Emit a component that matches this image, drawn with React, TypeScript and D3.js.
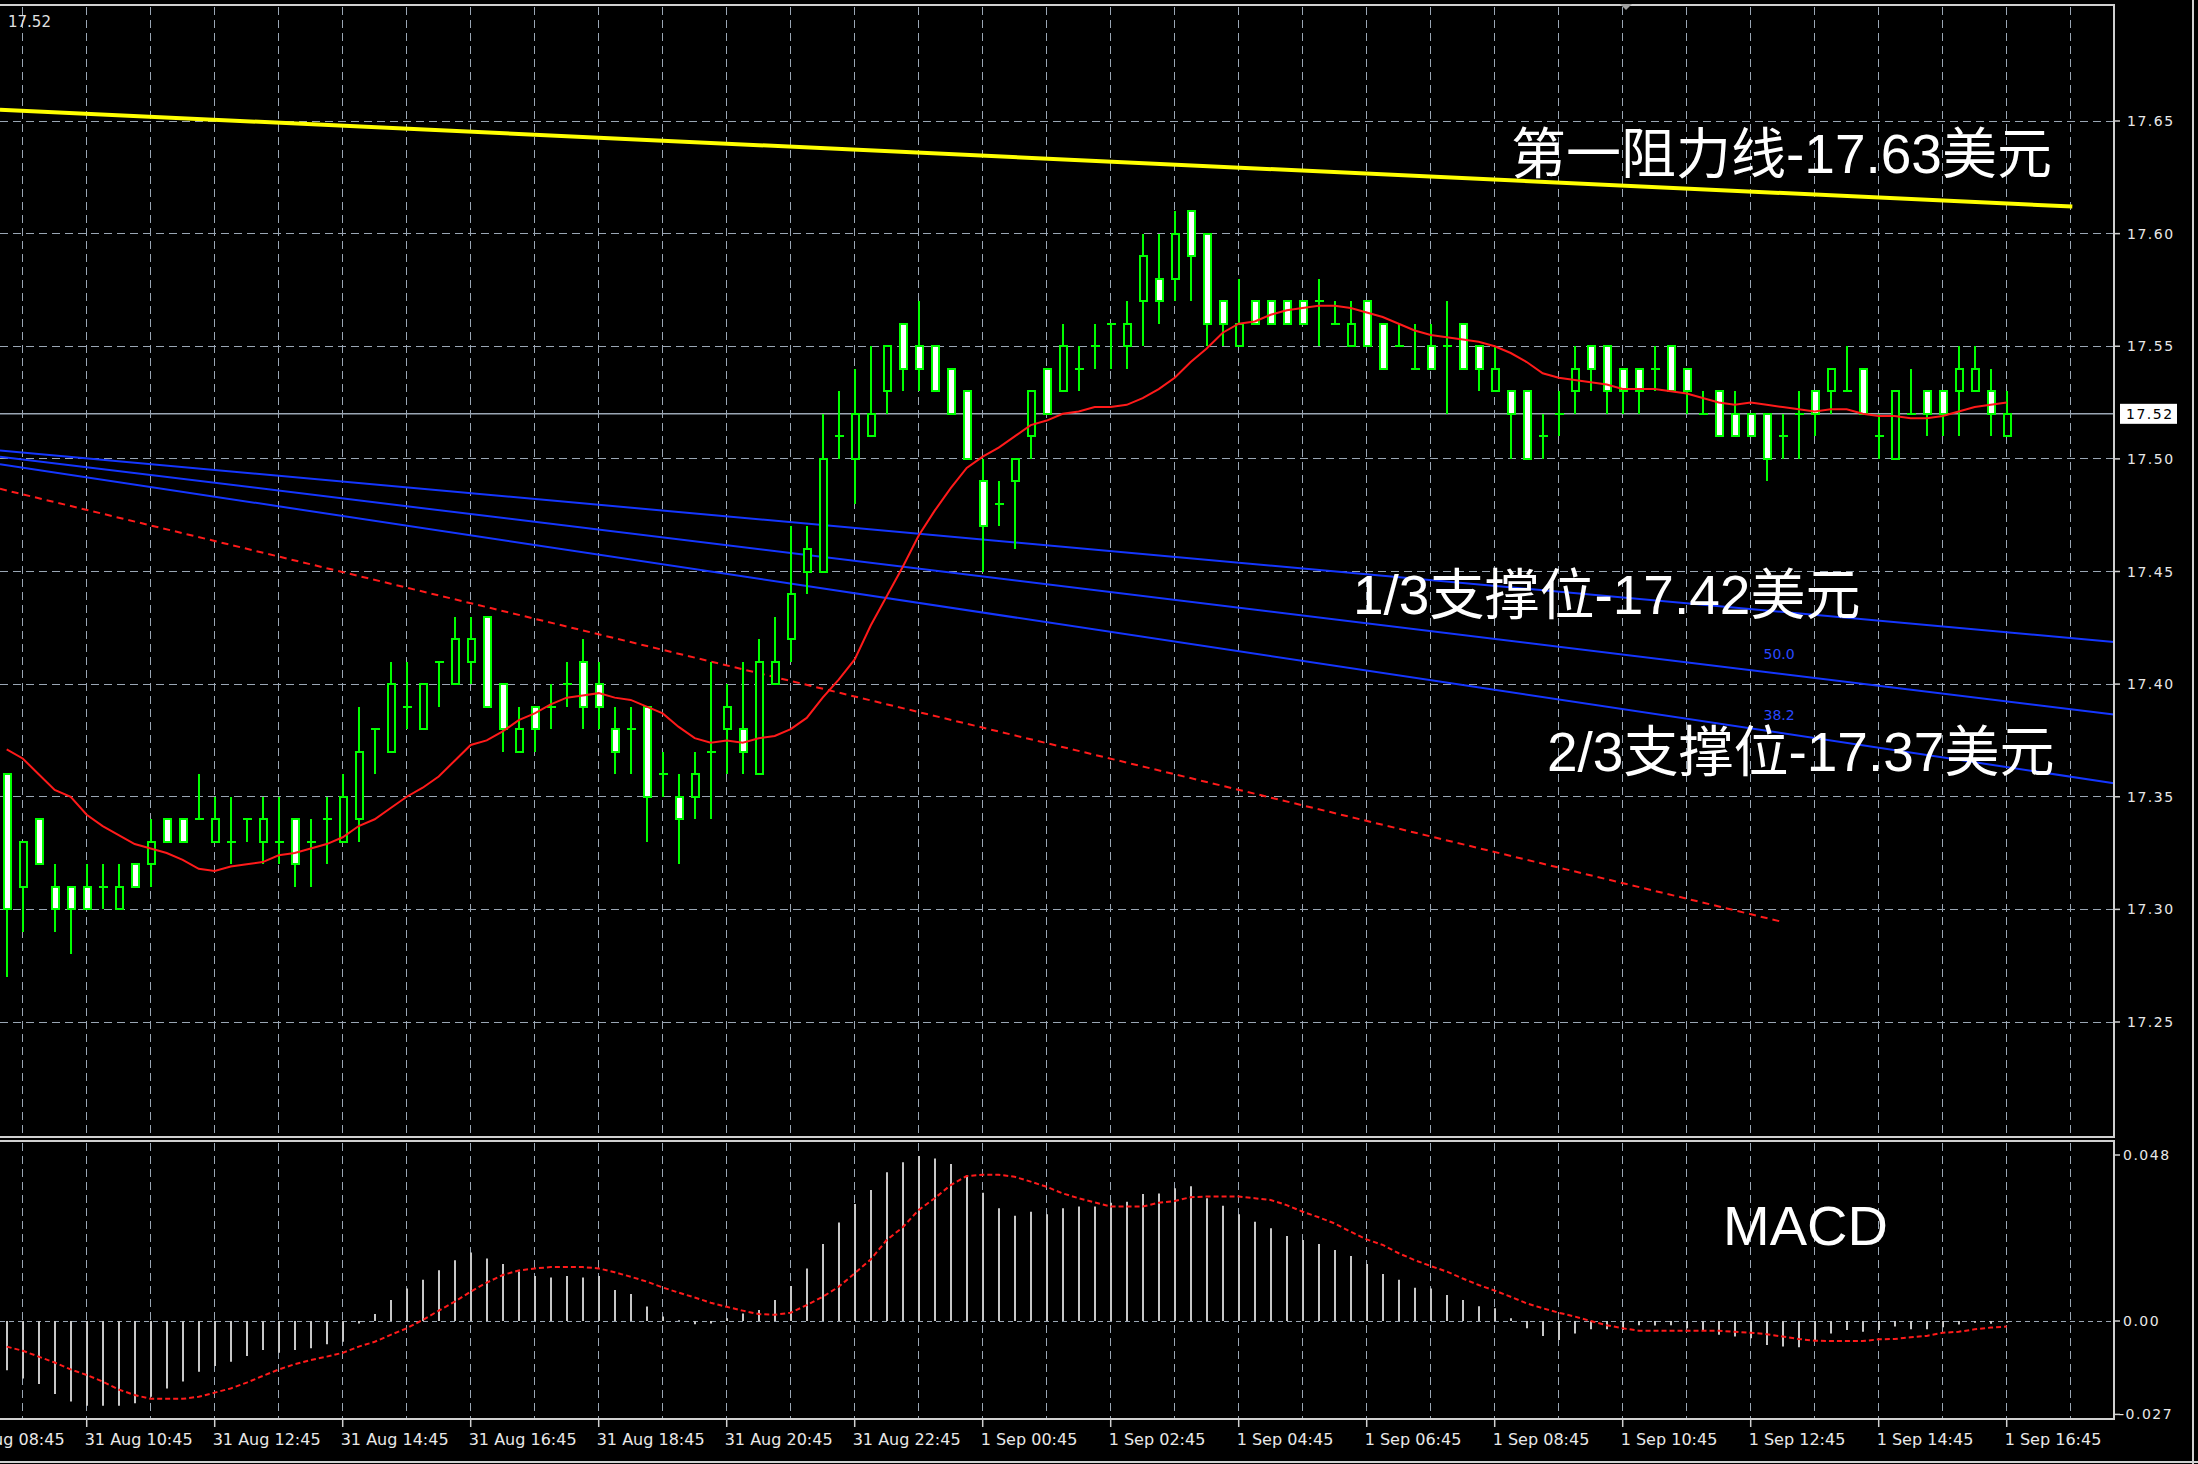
import * as d3 from 'd3';

// M15 candles, 31 Aug 09:30 -> 1 Sep 16:45
const opens = [
  17.36, 17.31, 17.34, 17.31, 17.31, 17.31, 17.31, 17.3, 17.32, 17.32, 17.34, 17.34, 17.34, 17.33, 17.33, 17.34,
  17.33, 17.33, 17.34, 17.33, 17.34, 17.33, 17.34, 17.38, 17.37, 17.39, 17.38, 17.41, 17.4, 17.41, 17.43, 17.4,
  17.37, 17.39, 17.39, 17.4, 17.41, 17.4, 17.38, 17.38, 17.39, 17.36, 17.35, 17.35, 17.37, 17.38, 17.38, 17.36,
  17.4, 17.42, 17.45, 17.45, 17.51, 17.5, 17.51, 17.53, 17.56, 17.55, 17.55, 17.54, 17.53, 17.49, 17.48, 17.49,
  17.51, 17.54, 17.53, 17.54, 17.55, 17.56, 17.55, 17.57, 17.58, 17.58, 17.61, 17.6, 17.57, 17.55, 17.57, 17.57,
  17.57, 17.57, 17.57, 17.56, 17.55, 17.57, 17.56, 17.55, 17.54, 17.55, 17.55, 17.56, 17.55, 17.53, 17.53, 17.53,
  17.51, 17.52, 17.53, 17.55, 17.55, 17.54, 17.54, 17.54, 17.55, 17.54, 17.52, 17.53, 17.52, 17.52, 17.52, 17.51,
  17.52, 17.53, 17.53, 17.53, 17.54, 17.51, 17.5, 17.52, 17.53, 17.53, 17.53, 17.53, 17.53, 17.51,
];
const highs = [
  17.36, 17.33, 17.34, 17.32, 17.31, 17.32, 17.32, 17.32, 17.32, 17.34, 17.34, 17.34, 17.36, 17.35, 17.35, 17.34,
  17.35, 17.35, 17.34, 17.34, 17.35, 17.36, 17.39, 17.38, 17.41, 17.41, 17.4, 17.41, 17.43, 17.43, 17.43, 17.4,
  17.39, 17.39, 17.4, 17.41, 17.42, 17.41, 17.39, 17.39, 17.39, 17.37, 17.36, 17.37, 17.41, 17.4, 17.41, 17.42,
  17.43, 17.47, 17.47, 17.52, 17.53, 17.54, 17.55, 17.55, 17.56, 17.57, 17.55, 17.54, 17.53, 17.5, 17.49, 17.5,
  17.53, 17.54, 17.56, 17.55, 17.56, 17.56, 17.57, 17.6, 17.6, 17.61, 17.61, 17.6, 17.57, 17.58, 17.57, 17.57,
  17.57, 17.57, 17.58, 17.57, 17.57, 17.57, 17.56, 17.56, 17.56, 17.56, 17.57, 17.56, 17.55, 17.55, 17.53, 17.53,
  17.52, 17.53, 17.55, 17.55, 17.55, 17.54, 17.54, 17.55, 17.55, 17.54, 17.53, 17.53, 17.53, 17.52, 17.52, 17.52,
  17.53, 17.53, 17.54, 17.55, 17.54, 17.52, 17.53, 17.54, 17.53, 17.53, 17.55, 17.55, 17.54, 17.53,
];
const lows = [
  17.27, 17.29, 17.32, 17.29, 17.28, 17.3, 17.3, 17.3, 17.31, 17.31, 17.33, 17.33, 17.34, 17.33, 17.32, 17.33,
  17.32, 17.32, 17.31, 17.31, 17.32, 17.33, 17.33, 17.36, 17.37, 17.38, 17.38, 17.39, 17.4, 17.4, 17.39, 17.37,
  17.37, 17.37, 17.38, 17.39, 17.38, 17.38, 17.36, 17.36, 17.33, 17.35, 17.32, 17.34, 17.34, 17.36, 17.36, 17.36,
  17.4, 17.41, 17.44, 17.45, 17.5, 17.48, 17.51, 17.52, 17.53, 17.53, 17.53, 17.52, 17.5, 17.45, 17.47, 17.46,
  17.5, 17.52, 17.53, 17.53, 17.54, 17.54, 17.54, 17.55, 17.56, 17.57, 17.57, 17.55, 17.55, 17.55, 17.56, 17.56,
  17.56, 17.56, 17.55, 17.56, 17.55, 17.55, 17.54, 17.55, 17.54, 17.54, 17.52, 17.54, 17.53, 17.53, 17.5, 17.5,
  17.5, 17.51, 17.52, 17.53, 17.52, 17.52, 17.52, 17.53, 17.53, 17.52, 17.52, 17.51, 17.51, 17.51, 17.49, 17.5,
  17.5, 17.51, 17.52, 17.53, 17.52, 17.5, 17.5, 17.52, 17.51, 17.51, 17.51, 17.53, 17.51, 17.51,
];
const closes = [
  17.3, 17.33, 17.32, 17.3, 17.3, 17.3, 17.31, 17.31, 17.31, 17.33, 17.33, 17.33, 17.34, 17.34, 17.33, 17.34,
  17.34, 17.33, 17.32, 17.33, 17.34, 17.35, 17.37, 17.38, 17.4, 17.39, 17.4, 17.41, 17.42, 17.42, 17.39, 17.38,
  17.38, 17.38, 17.39, 17.4, 17.39, 17.39, 17.37, 17.38, 17.35, 17.36, 17.34, 17.36, 17.37, 17.39, 17.37, 17.41,
  17.41, 17.44, 17.46, 17.5, 17.51, 17.52, 17.52, 17.55, 17.54, 17.54, 17.53, 17.52, 17.5, 17.47, 17.48, 17.5,
  17.53, 17.52, 17.55, 17.54, 17.55, 17.56, 17.56, 17.59, 17.57, 17.6, 17.59, 17.56, 17.56, 17.56, 17.56, 17.56,
  17.56, 17.56, 17.57, 17.56, 17.56, 17.55, 17.54, 17.55, 17.54, 17.54, 17.55, 17.54, 17.54, 17.54, 17.52, 17.5,
  17.51, 17.52, 17.54, 17.54, 17.53, 17.53, 17.53, 17.54, 17.53, 17.53, 17.52, 17.51, 17.51, 17.51, 17.5, 17.51,
  17.52, 17.52, 17.54, 17.53, 17.52, 17.51, 17.53, 17.52, 17.52, 17.52, 17.54, 17.54, 17.52, 17.52,
];
// moving average (red line)
const maValues = [
  17.371, 17.367, 17.36, 17.353, 17.35, 17.342, 17.337, 17.333, 17.329, 17.327, 17.325, 17.322, 17.318, 17.317,
  17.319, 17.32, 17.321, 17.324, 17.325, 17.327, 17.329, 17.332, 17.337, 17.34, 17.345, 17.35, 17.354, 17.359,
  17.366, 17.373, 17.375, 17.379, 17.384, 17.387, 17.391, 17.394, 17.395, 17.396, 17.394, 17.393, 17.39, 17.387,
  17.381, 17.376, 17.374, 17.375, 17.374, 17.376, 17.377, 17.38, 17.385, 17.394, 17.402, 17.411, 17.426, 17.439,
  17.452, 17.466, 17.477, 17.487, 17.496, 17.501, 17.505, 17.51, 17.515, 17.517, 17.52, 17.521, 17.523, 17.523,
  17.524, 17.527, 17.531, 17.536, 17.543, 17.549, 17.556, 17.56, 17.561, 17.564, 17.566, 17.567, 17.568, 17.568,
  17.567, 17.565, 17.563, 17.56, 17.557, 17.555, 17.554, 17.553, 17.552, 17.55, 17.547, 17.543, 17.538, 17.536,
  17.535, 17.534, 17.533, 17.531, 17.531, 17.531, 17.53, 17.529, 17.527, 17.525, 17.524, 17.525, 17.524, 17.523,
  17.522, 17.521, 17.522, 17.522, 17.52, 17.519, 17.519, 17.518, 17.518, 17.519, 17.521, 17.523, 17.524, 17.525,
];
const macdHist = [
  -0.0142, -0.0166, -0.0182, -0.0211, -0.0233, -0.0245, -0.0245, -0.0245, -0.0238, -0.0219, -0.0195, -0.0175,
  -0.0147, -0.013, -0.0118, -0.0101, -0.0084, -0.0092, -0.0084, -0.0079, -0.0067, -0.006, -0.0007, 0.002, 0.0061,
  0.0094, 0.0119, 0.0147, 0.0176, 0.0198, 0.0181, 0.0165, 0.0143, 0.013, 0.0126, 0.013, 0.0126, 0.013, 0.009,
  0.0078, 0.0042, 0.0013, 0.0002, -0.0009, -0.0007, 0.0008, 0.0022, 0.0032, 0.0061, 0.0101, 0.0152, 0.0223,
  0.0285, 0.0338, 0.0379, 0.043, 0.0459, 0.0477, 0.047, 0.0454, 0.0422, 0.0371, 0.0326, 0.0304, 0.0316, 0.0309,
  0.0326, 0.0331, 0.0331, 0.0342, 0.0345, 0.0367, 0.0369, 0.0384, 0.039, 0.0355, 0.0333, 0.0309, 0.0287, 0.0268,
  0.0246, 0.0234, 0.0223, 0.0205, 0.0188, 0.0165, 0.0136, 0.0119, 0.0096, 0.0094, 0.0075, 0.0061, 0.0043, 0.0037,
  0.0008, -0.0021, -0.0043, -0.0055, -0.0036, -0.0024, -0.0024, -0.0026, -0.0012, -0.0013, -0.0012, -0.0021,
  -0.0026, -0.004, -0.0045, -0.005, -0.0069, -0.0074, -0.0076, -0.0057, -0.0036, -0.0026, -0.0031, -0.0026,
  -0.0016, -0.0024, -0.0024, -0.0018, -0.001, -0.0005, -0.0008, -0.0005,
];
const macdSignal = [
  -0.0074, -0.0086, -0.0103, -0.012, -0.014, -0.0156, -0.0175, -0.0198, -0.0214, -0.0225, -0.0225, -0.0225,
  -0.0219, -0.0207, -0.0195, -0.0178, -0.0159, -0.014, -0.0125, -0.0113, -0.0103, -0.0092, -0.0074, -0.006, -0.004,
  -0.0021, 0.0003, 0.003, 0.0056, 0.0085, 0.0111, 0.0133, 0.0146, 0.0152, 0.0156, 0.0156, 0.0156, 0.0152, 0.0141,
  0.0128, 0.0114, 0.0097, 0.0082, 0.0068, 0.0053, 0.0041, 0.003, 0.002, 0.0018, 0.0024, 0.0046, 0.007, 0.0099,
  0.0138, 0.0178, 0.0234, 0.0271, 0.0321, 0.0355, 0.0393, 0.0419, 0.0423, 0.0423, 0.0417, 0.0403, 0.0388, 0.0369,
  0.0355, 0.0343, 0.0331, 0.0331, 0.0331, 0.0342, 0.0347, 0.0358, 0.036, 0.036, 0.036, 0.0355, 0.035, 0.0335,
  0.0316, 0.03, 0.0282, 0.0258, 0.0236, 0.022, 0.0196, 0.0176, 0.0159, 0.0143, 0.0123, 0.0104, 0.0088, 0.007,
  0.0051, 0.0037, 0.0024, 0.0013, 0, -0.0012, -0.0021, -0.0028, -0.0028, -0.0028, -0.0028, -0.0028, -0.0028,
  -0.0031, -0.0034, -0.0038, -0.0045, -0.0052, -0.0057, -0.0058, -0.0058, -0.0058, -0.0053, -0.0052, -0.0047,
  -0.0043, -0.0034, -0.0031, -0.0024, -0.0019, -0.0016,
];

const priceTicks = [17.65, 17.6, 17.55, 17.5, 17.45, 17.4, 17.35, 17.3, 17.25];
const macdTicks = [0.048, 0, -0.027];
const macdTickLabels = ['0.048', '0.00', '-0.027'];
const timeLabels = [
  '31 Aug 08:45', '31 Aug 10:45', '31 Aug 12:45', '31 Aug 14:45', '31 Aug 16:45', '31 Aug 18:45',
  '31 Aug 20:45', '31 Aug 22:45', '1 Sep 00:45', '1 Sep 02:45', '1 Sep 04:45', '1 Sep 06:45',
  '1 Sep 08:45', '1 Sep 10:45', '1 Sep 12:45', '1 Sep 14:45', '1 Sep 16:45',
];
const firstLabelIdx = -3; // 31 Aug 08:45 is three bars before the first one
const lastPrice = 17.52;

// trend objects: [bar index, price] at both ends
const resistanceLine = [[-0.42, 17.655], [129.1, 17.612]];
const fanLines = [
  [[-0.42, 17.5037], [131.7, 17.4187]],
  [[-0.42, 17.501], [131.7, 17.3865]],
  [[-0.42, 17.4976], [131.7, 17.356]],
];
const redTrend = [[-0.42, 17.4867], [111, 17.2944]];
const fanLabels = [
  { text: '50.0', idx: 109.8, price: 17.4112 },
  { text: '38.2', idx: 109.8, price: 17.3841 },
];
const notes = [
  { text: '第一阻力线-17.63美元', x: 1511, y: 173 },
  { text: '1/3支撑位-17.42美元', x: 1353, y: 614 },
  { text: '2/3支撑位-17.37美元', x: 1547, y: 771 },
  { text: 'MACD', x: 1723, y: 1245 },
];

const W = 2198;
const H = 1464;
const right = 2114;
const mainTop = 5;
const mainBottom = 1137;
const subTop = 1141;
const subBottom = 1419;

const gridColor = '#9aa6b4';
const green = '#00ff00';

export default function App() {
  const x = d3.scaleLinear().domain([0, 125]).range([6.7, 2006.7]);
  const y = d3.scaleLinear().domain([17.25, 17.65]).range([1022, 121]);
  const ym = d3.scaleLinear().domain([-0.027, 0.048]).range([1414.4, 1155]);

  const gridIdx = d3.range(1, 130, 4);
  const maLine = d3
    .line<number>()
    .x((_, i) => x(i))
    .y((d) => y(d));
  const sigLine = d3
    .line<number>()
    .x((_, i) => x(i))
    .y((d) => ym(d));
  const seg = d3
    .line<number[]>()
    .x((d) => x(d[0]))
    .y((d) => y(d[1]));

  const bodyW = 7;

  return (
    <svg
      width={W}
      height={H}
      style={{ position: 'absolute', left: 0, top: 0, background: '#000' }}
    >
      <defs>
        <clipPath id="mainClip">
          <rect x={0} y={mainTop} width={right} height={mainBottom - mainTop} />
        </clipPath>
        <clipPath id="subClip">
          <rect x={0} y={subTop} width={right} height={subBottom - subTop} />
        </clipPath>
      </defs>
      <rect width={W} height={H} fill="#000" />

      {/* grid */}
      <g stroke={gridColor} strokeWidth={1} strokeDasharray="8 5" shapeRendering="crispEdges">
        {gridIdx.map((i) => (
          <line key={'vm' + i} x1={x(i)} x2={x(i)} y1={mainTop + 2} y2={mainBottom} />
        ))}
        {gridIdx.map((i) => (
          <line key={'vs' + i} x1={x(i)} x2={x(i)} y1={subTop + 2} y2={subBottom} />
        ))}
        {priceTicks.map((p) => (
          <line key={'h' + p} x1={0} x2={right} y1={y(p)} y2={y(p)} />
        ))}
        <line x1={0} x2={right} y1={ym(0)} y2={ym(0)} strokeDasharray="5 4" />
      </g>

      <g clipPath="url(#mainClip)">
        {/* trend objects */}
        <path d={seg(redTrend as any) || ''} fill="none" stroke="#ff1a1a" strokeWidth={2} strokeDasharray="7 5" />
        {fanLines.map((l, k) => (
          <path key={'fan' + k} d={seg(l as any) || ''} fill="none" stroke="#1436ff" strokeWidth={2} />
        ))}
        <path d={seg(resistanceLine as any) || ''} fill="none" stroke="#ffff00" strokeWidth={4} />
        {fanLabels.map((f) => (
          <text
            key={f.text}
            x={x(f.idx)}
            y={y(f.price)}
            fill="#2a48ff"
            fontSize={14}
            fontFamily="DejaVu Sans, sans-serif"
          >
            {f.text}
          </text>
        ))}
        {/* current price line */}
        <line x1={0} x2={right} y1={y(lastPrice)} y2={y(lastPrice)} stroke="#9aa6b4" strokeWidth={1.5} />

        {/* candles */}
        <g shapeRendering="crispEdges">
          {closes.map((c, i) => {
            const o = opens[i];
            const cx = Math.round(x(i));
            const top = y(Math.max(o, c));
            const bot = y(Math.min(o, c));
            return (
              <g key={'c' + i}>
                <line x1={cx} x2={cx} y1={y(highs[i])} y2={y(lows[i])} stroke={green} strokeWidth={2} />
                {o === c ? (
                  <line x1={cx - 4.5} x2={cx + 4.5} y1={top} y2={top} stroke={green} strokeWidth={2} />
                ) : (
                  <rect
                    x={cx - bodyW / 2}
                    y={top}
                    width={bodyW}
                    height={bot - top}
                    fill={c < o ? '#ffffff' : '#000000'}
                    stroke={green}
                    strokeWidth={2}
                  />
                )}
              </g>
            );
          })}
        </g>
        <path d={maLine(maValues) || ''} fill="none" stroke="#ff1a1a" strokeWidth={2} />
      </g>

      {/* MACD */}
      <g clipPath="url(#subClip)">
        {macdHist.map((v, i) => (
          <line
            key={'m' + i}
            x1={Math.round(x(i))}
            x2={Math.round(x(i))}
            y1={ym(0)}
            y2={ym(v)}
            stroke="#c8c8c8"
            strokeWidth={2}
          />
        ))}
        <path d={sigLine(macdSignal) || ''} fill="none" stroke="#ff1a1a" strokeWidth={2} strokeDasharray="5 3" />
      </g>

      {/* frames */}
      <g fill="none" stroke="#d0d0d0" strokeWidth={1.5} shapeRendering="crispEdges">
        <rect x={-2} y={mainTop} width={right + 2} height={mainBottom - mainTop} />
        <rect x={-2} y={subTop} width={right + 2} height={subBottom - subTop} />
        <line x1={0} x2={W} y1={1462} y2={1462} />
        <line x1={2193} x2={2193} y1={0} y2={H} />
      </g>
      <path d="M1620,4 L1632,4 L1626,10 Z" fill="#a0a0a0" />
      <text x={8} y={27} fill="#e0e0e0" fontSize={15} fontFamily="DejaVu Sans, sans-serif">
        17.52
      </text>

      {/* price axis */}
      <g fill="#e8e8e8" fontSize={14} fontFamily="DejaVu Sans, sans-serif" letterSpacing={1.5}>
        {priceTicks.map((p) => (
          <g key={'pt' + p}>
            <line x1={right} x2={right + 6} y1={y(p)} y2={y(p)} stroke="#d0d0d0" strokeWidth={1.5} />
            <text x={2127} y={y(p) + 5}>
              {p.toFixed(2)}
            </text>
          </g>
        ))}
        {macdTicks.map((v, k) => (
          <g key={'mt' + k}>
            <line x1={right} x2={right + 6} y1={ym(v)} y2={ym(v)} stroke="#d0d0d0" strokeWidth={1.5} />
            <text x={v < 0 ? 2119 : 2123} y={ym(v) + 5}>
              {macdTickLabels[k]}
            </text>
          </g>
        ))}
        <rect x={2120} y={y(lastPrice) - 10} width={57} height={20} fill="#ffffff" />
        <text x={2126} y={y(lastPrice) + 5} fill="#000">
          {lastPrice.toFixed(2)}
        </text>
      </g>

      {/* time axis */}
      <g fill="#e8e8e8" fontSize={16} fontFamily="DejaVu Sans, sans-serif">
        {timeLabels.map((t, k) => {
          const tx = x(firstLabelIdx + 8 * k);
          return (
            <g key={t}>
              <line x1={tx} x2={tx} y1={subBottom} y2={subBottom + 8} stroke="#d0d0d0" strokeWidth={1.5} />
              <text x={tx - 2} y={1445}>
                {t}
              </text>
            </g>
          );
        })}
      </g>

      {/* notes */}
      <g fill="#ffffff" fontSize={55} fontFamily="Liberation Sans, Noto Sans CJK SC, sans-serif">
        {notes.map((n) => (
          <text key={n.text} x={n.x} y={n.y} fontSize={n.text === 'MACD' ? 56 : 55}>
            {n.text}
          </text>
        ))}
      </g>
    </svg>
  );
}
